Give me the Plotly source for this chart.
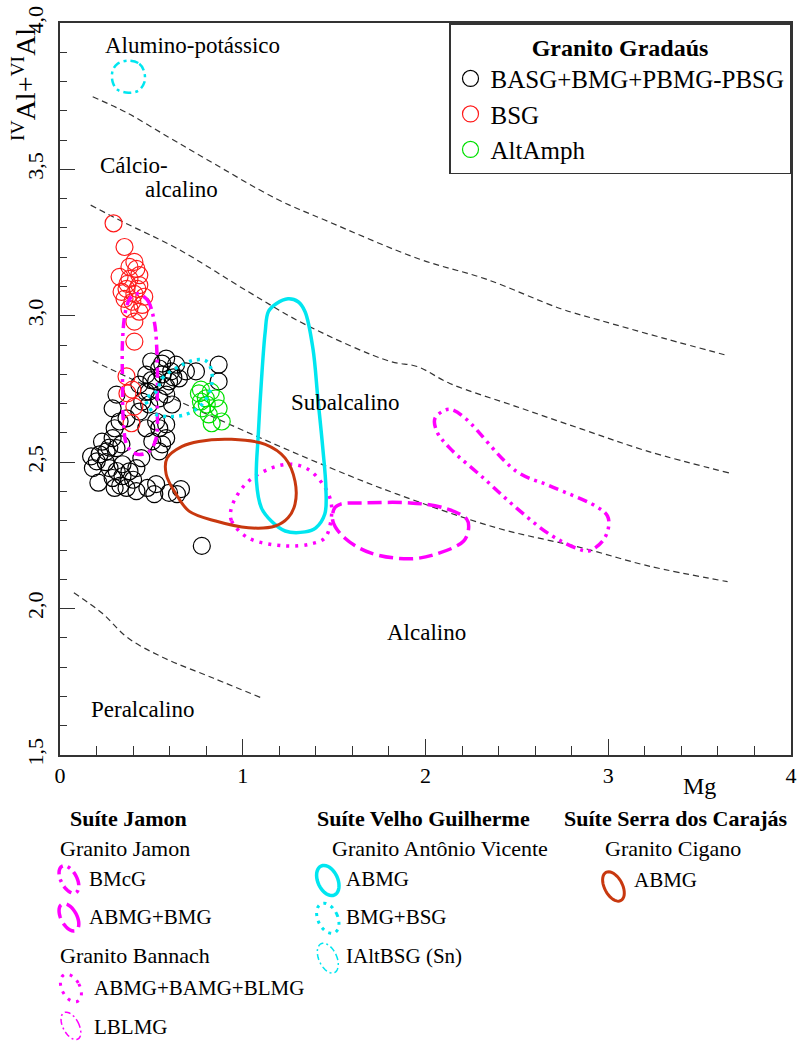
import math
import plotly.graph_objects as go

# ---------------- data (Mg, IVAl+VIAl) ----------------
black_x = [0.581,0.635,0.543,0.472,0.526,0.597,0.651,0.581,0.488,0.434,0.450,0.868,0.868,0.744,0.309,0.288,0.326,0.526,0.472,0.581,
           0.505,0.581,0.543,0.288,0.217,0.201,0.309,0.271,0.342,0.613,0.543,0.488,0.434,0.364,0.299,0.559,0.543,0.255,0.336,0.288,
           0.299,0.342,0.380,0.418,0.445,0.364,0.418,0.478,0.526,0.516,0.597,0.640,0.662,0.776,0.689,0.559,0.608,0.499,
           0.56,0.62,0.50,0.47,0.58,0.25,0.31,0.27,0.33,0.40,0.17,0.18,0.23,0.21]
black_y = [2.854,2.833,2.820,2.799,2.776,2.776,2.786,2.731,2.741,2.765,2.707,2.833,2.776,2.810,2.731,2.684,2.639,2.639,2.616,2.629,
           2.571,2.582,2.537,2.582,2.527,2.503,2.548,2.480,2.493,2.697,2.718,2.697,2.673,2.650,2.616,2.561,2.616,2.537,2.561,2.446,
           2.412,2.452,2.469,2.480,2.514,2.412,2.401,2.412,2.425,2.391,2.395,2.391,2.408,2.214,2.810,2.837,2.810,2.844,
           2.80,2.79,2.78,2.74,2.76,2.50,2.47,2.55,2.42,2.44,2.52,2.48,2.57,2.43]

red_x = [0.293,0.353,0.407,0.418,0.326,0.380,0.434,0.364,0.423,0.353,0.396,0.450,0.380,0.434,0.407,0.407,0.369,0.407,0.337,0.461,
         0.380,0.434,0.364,0.369,0.396,0.407,0.391]
red_y = [3.316,3.235,3.184,3.160,3.133,3.126,3.139,3.092,3.092,3.058,3.048,3.037,3.024,3.014,2.980,2.912,3.109,3.075,3.082,3.065,
         3.167,3.105,2.793,2.735,2.748,2.690,2.633]

green_x = [0.771,0.798,0.852,0.868,0.776,0.814,0.885,0.830,0.771,0.803,0.760,0.825]
green_y = [2.748,2.718,2.718,2.684,2.684,2.663,2.639,2.633,2.707,2.697,2.735,2.741]

# field boundaries (dashed)
b1_x = [0.179,0.364,0.597,0.803,1.189,1.449,1.965,2.328,2.741,2.947,3.311,3.636]
b1_y = [3.748,3.694,3.609,3.534,3.398,3.327,3.194,3.126,3.024,2.986,2.922,2.867]
b2_x = [0.168,0.347,0.646,1.031,1.346,1.807,1.954,2.133,2.497,2.860,3.218,3.663]
b2_y = [3.378,3.320,3.228,3.082,2.969,2.844,2.827,2.769,2.690,2.612,2.537,2.463]
b3_x = [0.179,0.868,1.482,1.845,2.388,2.860,3.218,3.653]
b3_y = [2.847,2.646,2.480,2.391,2.276,2.207,2.146,2.092]
b4_x = [0.076,0.233,0.369,0.564,0.841,1.107]
b4_y = [2.054,1.983,1.901,1.833,1.762,1.694]

# comparison fields (outlines)
jamon_bmcg_x = [0.423,0.478,0.516,0.532,0.532,0.526,0.488,0.423,0.369,0.347,0.342,0.342,0.358,0.385,0.423]
jamon_bmcg_y = [3.075,3.054,2.980,2.844,2.707,2.582,2.537,2.527,2.554,2.639,2.776,2.912,3.014,3.061,3.075]
jamon_bmcg2_x = [2.117,2.052,2.062,2.133,2.317,2.497,2.676,2.822,2.893,2.969,3.001,2.996,2.931,2.676,2.497,2.225,2.155,2.117]
jamon_bmcg2_y = [2.680,2.650,2.605,2.548,2.446,2.344,2.255,2.207,2.197,2.231,2.276,2.316,2.350,2.420,2.469,2.646,2.677,2.680]
jamon_abmg_x = [1.503,1.493,1.558,1.699,1.916,2.062,2.209,2.236,2.225,2.100,1.916,1.666,1.536,1.503]
jamon_abmg_y = [2.344,2.299,2.241,2.190,2.170,2.187,2.231,2.276,2.306,2.344,2.361,2.361,2.357,2.344]
bannach_x = [0.934,0.939,1.031,1.232,1.373,1.449,1.482,1.482,1.438,1.357,1.265,1.156,1.031,0.961,0.934]
bannach_y = [2.333,2.299,2.241,2.214,2.221,2.241,2.299,2.367,2.425,2.476,2.493,2.480,2.435,2.378,2.333]
av_abmg_x = [1.248,1.303,1.341,1.384,1.411,1.438,1.455,1.449,1.400,1.341,1.232,1.156,1.102,1.075,1.085,1.102,1.123,1.140,1.183,1.248]
av_abmg_y = [3.058,3.048,3.014,2.888,2.718,2.548,2.412,2.323,2.276,2.262,2.265,2.299,2.344,2.435,2.595,2.776,2.946,3.014,3.041,3.058]
av_bmg_x = [0.526,0.559,0.651,0.744,0.803,0.830,0.825,0.776,0.689,0.597,0.526,0.478,0.472,0.526]
av_bmg_y = [2.741,2.786,2.827,2.850,2.844,2.810,2.752,2.697,2.663,2.656,2.663,2.697,2.718,2.741]
av_ialt_x = [0.374,0.434,0.461,0.461,0.429,0.374,0.315,0.288,0.288,0.315,0.374]
av_ialt_y = [3.871,3.861,3.833,3.796,3.769,3.762,3.772,3.799,3.837,3.861,3.871]
cigano_x = [0.668,0.760,0.939,1.123,1.232,1.286,1.286,1.248,1.178,1.031,0.852,0.706,0.635,0.581,0.586,0.668]
cigano_y = [2.554,2.571,2.578,2.561,2.514,2.435,2.357,2.310,2.282,2.276,2.299,2.333,2.391,2.459,2.514,2.554]

field_labels = ["Alumino-potássico", "Cálcio-", "alcalino", "Subalcalino", "Alcalino", "Peralcalino"]
field_lx = [0.725, 0.407, 0.665, 1.560, 2.005, 0.450]
field_ly = [3.922, 3.514, 3.432, 2.705, 1.918, 1.656]

# ---------------- styles ----------------
FONT = "Liberation Serif, Times New Roman, serif"
MAG = "#FF00FF"
CYAN = "#00E6F0"
BROWN = "#C8380F"
DASH_DD = "10px,5px,3px,5px"
DASH_DDD = "10px,5px,3px,5px,3px,5px"
DASH_D = "14px,6px"
DASH_DOT = "3px,6px"
DASH_CDOT = "3px,5px"
DASH_THIN = "8px,4px,3px,4px"

W, H = 803, 1043
ML, MR, MT, MB = 60, 6, 20, 288
PW, PH = W - ML - MR, H - MT - MB

def P(xp, yp):
    return (xp - ML) / PW, (H - MB - yp) / PH

fig = go.Figure()

# boundaries
for bx, by in [(b1_x, b1_y), (b2_x, b2_y), (b3_x, b3_y), (b4_x, b4_y)]:
    fig.add_trace(go.Scatter(x=bx, y=by, mode="lines", line=dict(color="#333333", width=1.2, dash="6px,4px", shape="spline"),
                             showlegend=False, hoverinfo="skip"))

outlines = [
    (jamon_bmcg_x, jamon_bmcg_y, MAG, 3.5, DASH_DD),
    (jamon_bmcg2_x, jamon_bmcg2_y, MAG, 3.5, DASH_DDD),
    (jamon_abmg_x, jamon_abmg_y, MAG, 3.5, DASH_D),
    (bannach_x, bannach_y, MAG, 3.5, DASH_DOT),
    (av_abmg_x, av_abmg_y, CYAN, 3.5, "solid"),
    (av_bmg_x, av_bmg_y, CYAN, 3.5, DASH_CDOT),
    (av_ialt_x, av_ialt_y, CYAN, 2.5, DASH_THIN),
    (cigano_x, cigano_y, BROWN, 3, "solid"),
]

# scatter points
series = [("BASG+BMG+PBMG-PBSG", black_x, black_y, "#000000"),
          ("BSG", red_x, red_y, "#FF1A1A"),
          ("AltAmph", green_x, green_y, "#00E000")]
for name, xs, ys, col in series:
    fig.add_trace(go.Scatter(x=xs, y=ys, mode="markers", name=name,
                             marker=dict(symbol="circle-open", size=17, color=col, line=dict(width=1.2, color=col))))

for ox, oy, col, wd, ds in outlines:
    fig.add_trace(go.Scatter(x=ox, y=oy, mode="lines", line=dict(color=col, width=wd, dash=ds, shape="spline", smoothing=1.0),
                             showlegend=False, hoverinfo="skip"))

annotations = []
for t, x, y in zip(field_labels, field_lx, field_ly):
    annotations.append(dict(x=x, y=y, xref="x", yref="y", text=t, showarrow=False,
                            xanchor="center", yanchor="middle",
                            font=dict(family=FONT, size=23, color="black")))

# axis titles
px_, py_ = P(24, 82)
annotations.append(dict(x=px_, y=py_, xref="paper", yref="paper", text="<sup>IV</sup>Al+<sup>VI</sup>Al",
                        textangle=-90, showarrow=False, xanchor="center", yanchor="middle",
                        font=dict(family=FONT, size=28, color="black")))
px_, py_ = P(705, 786)
annotations.append(dict(x=px_, y=py_, xref="paper", yref="paper", text="Mg", showarrow=False,
                        xanchor="center", yanchor="middle",
                        font=dict(family=FONT, size=24, color="black")))

# bottom legend (text)
def txt(t, xp, yp, size=22, bold=False):
    x, y = P(xp, yp)
    annotations.append(dict(x=x, y=y, xref="paper", yref="paper", text=("<b>%s</b>" % t) if bold else t,
                            xanchor="left", yanchor="middle", showarrow=False,
                            font=dict(family=FONT, size=size, color="black")))

txt("Suíte Jamon", 68, 819, 22, True)
txt("Granito Jamon", 58, 849)
txt("BMcG", 87, 880, 21)
txt("ABMG+BMG", 87, 918, 21)
txt("Granito Bannach", 58, 956)
txt("ABMG+BAMG+BLMG", 92, 989, 21)
txt("LBLMG", 92, 1028, 21)
txt("Suíte Velho Guilherme", 317, 819, 22, True)
txt("Granito Antônio Vicente", 332, 849)
txt("ABMG", 346, 880, 21)
txt("BMG+BSG", 346, 918, 21)
txt("IAltBSG (Sn)", 346, 957, 21)
txt("Suíte Serra dos Carajás", 566, 819, 22, True)
txt("Granito Cigano", 607, 849)
txt("ABMG", 637, 881, 21)

# bottom legend icons (small tilted ellipses)
def icon(cx, cy, rx, ry, ang, col, wd, ds):
    a = math.radians(ang)
    pts = []
    for i in range(41):
        t = 2 * math.pi * i / 40
        ex = rx * math.cos(t)
        ey = ry * math.sin(t)
        xp = cx + ex * math.cos(a) - ey * math.sin(a)
        yp = cy + ex * math.sin(a) + ey * math.cos(a)
        pts.append(P(xp, yp))
    path = "M " + " L ".join("%.5f,%.5f" % p for p in pts) + " Z"
    return dict(type="path", xref="paper", yref="paper", path=path,
                line=dict(color=col, width=wd, dash=ds))

shapes = [
    icon(69, 880, 8, 15, -28, MAG, 3.5, DASH_DD),
    icon(69, 918, 8, 15, -28, MAG, 3.5, DASH_D),
    icon(71, 989, 9, 15, -28, MAG, 3, DASH_DOT),
    icon(71, 1027, 8, 15, -28, MAG, 1.5, "6px,3px,2px,3px"),
    icon(330, 881, 10, 16, -25, CYAN, 3.5, "solid"),
    icon(330, 919, 10, 16, -25, CYAN, 3, DASH_CDOT),
    icon(330, 959, 9, 16, -25, CYAN, 1.5, "6px,3px,2px,3px"),
    icon(618, 887, 9, 16, -28, BROWN, 3, "solid"),
]

fig.update_layout(
    width=W, height=H,
    margin=dict(l=ML, r=MR, t=MT, b=MB, pad=0),
    paper_bgcolor="white", plot_bgcolor="white",
    separators=",.",
    font=dict(family=FONT, size=22, color="black"),
    showlegend=True,
    legend=dict(x=1, y=1, xanchor="right", yanchor="top", bgcolor="white",
                bordercolor="#333333", borderwidth=1.5,
                font=dict(family=FONT, size=25, color="black"),
                title=dict(text="<b>Granito Gradaús</b>", side="top center",
                           font=dict(family=FONT, size=24, color="black")),
                itemwidth=30, tracegroupgap=0),
    annotations=annotations,
    shapes=shapes,
    xaxis=dict(range=[0, 4], dtick=1, tick0=0, tickformat="d", ticks="inside", ticklen=16, tickwidth=1.3,
               tickcolor="#333333", showline=True, linecolor="#333333", linewidth=1.5, mirror=True,
               showgrid=False, zeroline=False, tickfont=dict(family=FONT, size=22),
               minor=dict(dtick=0.2, ticks="inside", ticklen=9, tickwidth=1, tickcolor="#333333", showgrid=False)),
    yaxis=dict(range=[1.5, 4.0], dtick=0.5, tick0=1.5, tickformat=".1f", ticks="inside", ticklen=15, tickwidth=1.3,
               tickcolor="#333333", showline=True, linecolor="#333333", linewidth=1.5, mirror=True,
               showgrid=False, zeroline=False, tickangle=-90, ticklabelstandoff=6, tickfont=dict(family=FONT, size=22),
               minor=dict(dtick=0.1, ticks="inside", ticklen=7, tickwidth=1, tickcolor="#333333", showgrid=False)),
)

fig.write_html("out.html")
